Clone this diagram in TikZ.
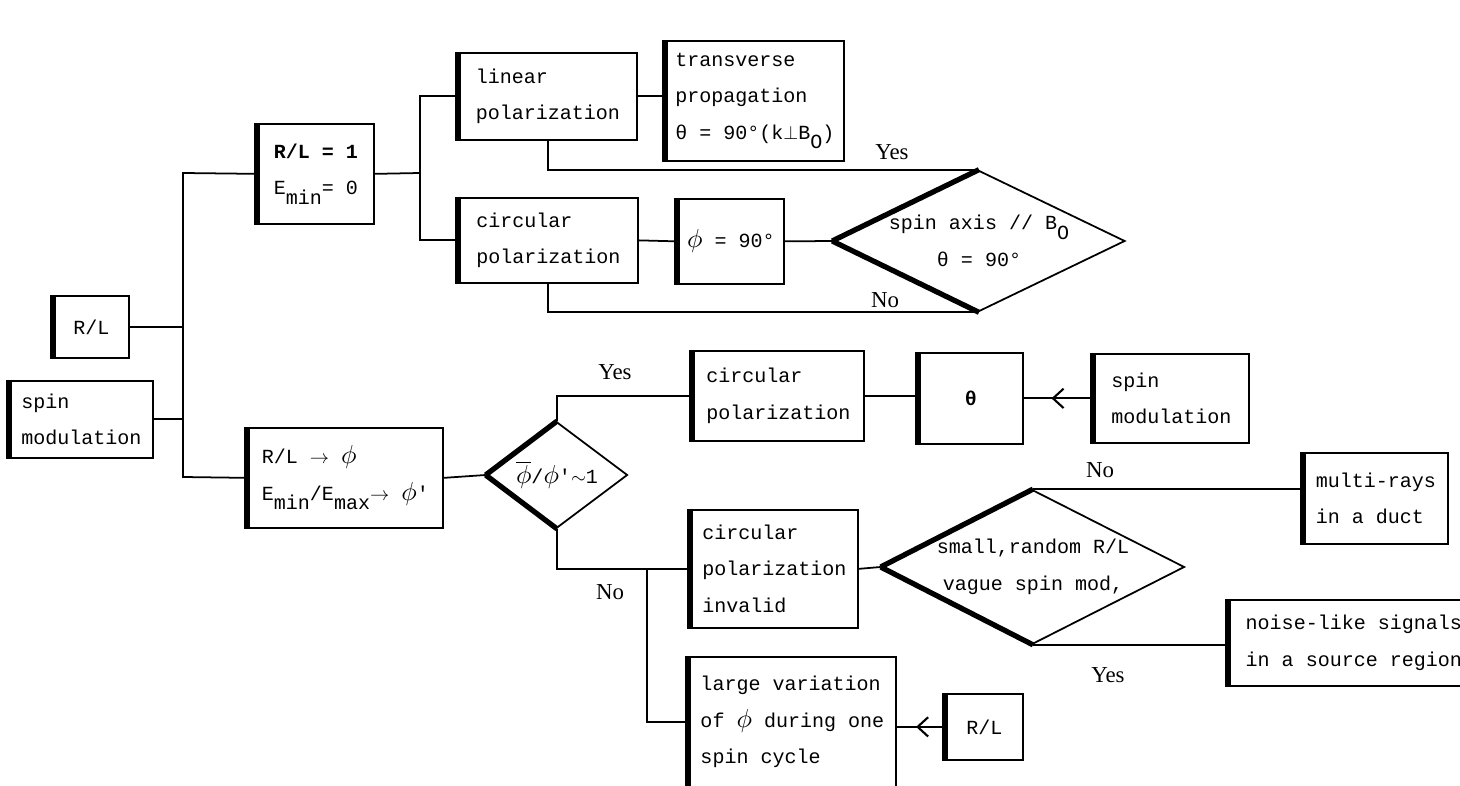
\documentclass[tikz,border=0pt]{standalone}
\usepackage{fontspec}
\setmainfont{Liberation Serif}
\setmonofont{Liberation Mono}
\usetikzlibrary{shapes.geometric, arrows.meta, decorations.markings}

\newcommand{\lowsub}[1]{\raisebox{-0.9ex}{#1}}
\newcommand{\slphi}{\scalebox{1.35}{$\phi$}}
\newcommand{\barphi}{\scalebox{1.35}{$\overline{\phi}$}}

\tikzstyle{process} = [
    rectangle,
    draw=black,
    line width=1pt,
    inner sep=0pt,
    anchor=north west,
    align=left,
    font=\ttfamily\fontsize{11.4}{20.8}\selectfont,
    append after command={(\tikzlastnode.north west) edge[line width=3pt] (\tikzlastnode.south west)}
]
\tikzstyle{decision} = [
    diamond,
    draw=black,
    line width=1pt,
    inner sep=0pt,
    align=center,
    font=\ttfamily\fontsize{11.4}{20.8}\selectfont,
    append after command={(\tikzlastnode.west) edge[line width=3pt] (\tikzlastnode.north)
        (\tikzlastnode.west) edge[line width=3pt] (\tikzlastnode.south)}
]
\tikzstyle{link} = [draw, line width=1pt]
\tikzstyle{midarrow} = [
    link,
    postaction={decorate},
    decoration={markings, mark=at position 0.6 with {\arrow{Straight Barb[length=6pt,width=11pt,line width=1.2pt]}}}
]
\tikzstyle{answer} = [font=\fontsize{13}{15}\selectfont]

\begin{document}
\begin{tikzpicture}[x=0.02cm, y=-0.02cm]
\useasboundingbox (0,0) rectangle (1460,786);

% inputs on the left
\node (rlA) [process, minimum width=1.50cm, minimum height=1.24cm] at (53,295) {R/L};
\node (spinA) [process, minimum width=2.86cm, minimum height=1.54cm] at (9,380) {spin\\modulation};

% upper branch
\node (unity) [process, minimum width=2.32cm, minimum height=2.00cm] at (257,123)
{\textbf{R/L = 1}\\E\lowsub{min}= 0};
\node (linpol) [process, minimum width=3.56cm, minimum height=1.74cm] at (458,52)
{linear\\polarization};
\node (transv) [process, minimum width=3.56cm, minimum height=2.40cm] at (665,40)
{transverse\\propagation\\θ = 90°(k$\perp$B\lowsub{O})};
\node (cirpolA) [process, minimum width=3.58cm, minimum height=1.70cm] at (458,197)
{circular\\polarization};
\node (phiA) [process, minimum width=2.12cm, minimum height=1.70cm] at (677,198)
{\slphi{} = 90°};
\node (axis) [decision, aspect=2.07, minimum width=5.84cm, minimum height=2.82cm] at (979,241)
{spin axis // B\lowsub{O}\\θ = 90°};

% lower branch
\node (ratio) [process, minimum width=3.90cm, minimum height=2.00cm] at (247,427)
{R/L $\rightarrow$ \slphi\\E\lowsub{min}/E\lowsub{max}$\rightarrow$ \slphi'};
\node (ratioQ) [decision, aspect=1.33, minimum width=2.82cm, minimum height=2.12cm] at (557,475)
{\barphi/\slphi'$\sim$1};
\node (cirpolB) [process, minimum width=3.42cm, minimum height=1.80cm] at (692,350)
{circular\\polarization};
\node (thetaB) [process, minimum width=2.08cm, minimum height=1.82cm] at (918,352) {\textbf{θ}};
\node (spinB) [process, minimum width=3.10cm, minimum height=1.78cm] at (1093,353)
{spin\\modulation};
\node (invalid) [process, minimum width=3.34cm, minimum height=2.36cm] at (690,509)
{circular\\polarization\\invalid};
\node (vague) [decision, aspect=1.97, minimum width=6.06cm, minimum height=3.08cm] at (1033,567)
{small,random R/L\\vague spin mod,};
\node (multi) [process, minimum width=2.88cm, minimum height=1.82cm] at (1303,452)
{multi-rays\\in a duct};
\node (noise) [process, minimum width=5.00cm, minimum height=1.72cm] at (1228,599)
{noise-like signals\\in a source region};
\node (largevar) [process, minimum width=4.14cm, minimum height=2.60cm] at (688,656)
{large variation\\of \slphi{} during one\\spin cycle};
\node (rlB) [process, minimum width=1.54cm, minimum height=1.32cm] at (945,693) {R/L};

% split points
\coordinate (trunkTop) at (183,173);
\coordinate (trunkBot) at (183,477);
\coordinate (splitA) at (420,173);
\coordinate (splitB) at (647,568);

% connectors
\draw [link] (unity.west) -- (trunkTop) -- (trunkBot) -- (ratio.west);
\draw [link] (rlA.east) -- (rlA.east -| trunkTop);
\draw [link] (spinA.east) -- (spinA.east -| trunkTop);
\draw [link] (unity.east) -- (splitA);
\draw [link] (linpol.west) -| (splitA) |- (cirpolA.west);
\draw [link] (linpol.east) -- (linpol.east -| transv.west);
\draw [link] (cirpolA.east) -- (phiA.west);
\draw [link] (phiA.east) -- (axis.west);
\draw [link] (linpol.south) |- (axis.north);
\draw [link] (cirpolA.south) |- (axis.south);

\draw [link] (ratio.east) -- (ratioQ.west);
\draw [link] (ratioQ.north) |- (cirpolB.west);
\draw [link] (cirpolB.east) -- (cirpolB.east -| thetaB.west);
\draw [midarrow] (spinB.west) -- (spinB.west -| thetaB.east);
\draw [link] (ratioQ.south) |- (invalid.west);
\draw [link] (splitB) |- (largevar.west);
\draw [link] (invalid.east) -- (vague.west);
\draw [link] (vague.north) -- (vague.north -| multi.west);
\draw [link] (vague.south) -- (vague.south -| noise.west);
\draw [midarrow] (rlB.west) -- (rlB.west -| largevar.east);

% answers
\node (yesA) [answer] at (892,152) {Yes};
\node (noA) [answer] at (885,300) {No};
\node (yesB) [answer] at (615,372) {Yes};
\node (noB) [answer] at (610,592) {No};
\node (noC) [answer] at (1100,470) {No};
\node (yesC) [answer] at (1108,675) {Yes};

\end{tikzpicture}
\end{document}
